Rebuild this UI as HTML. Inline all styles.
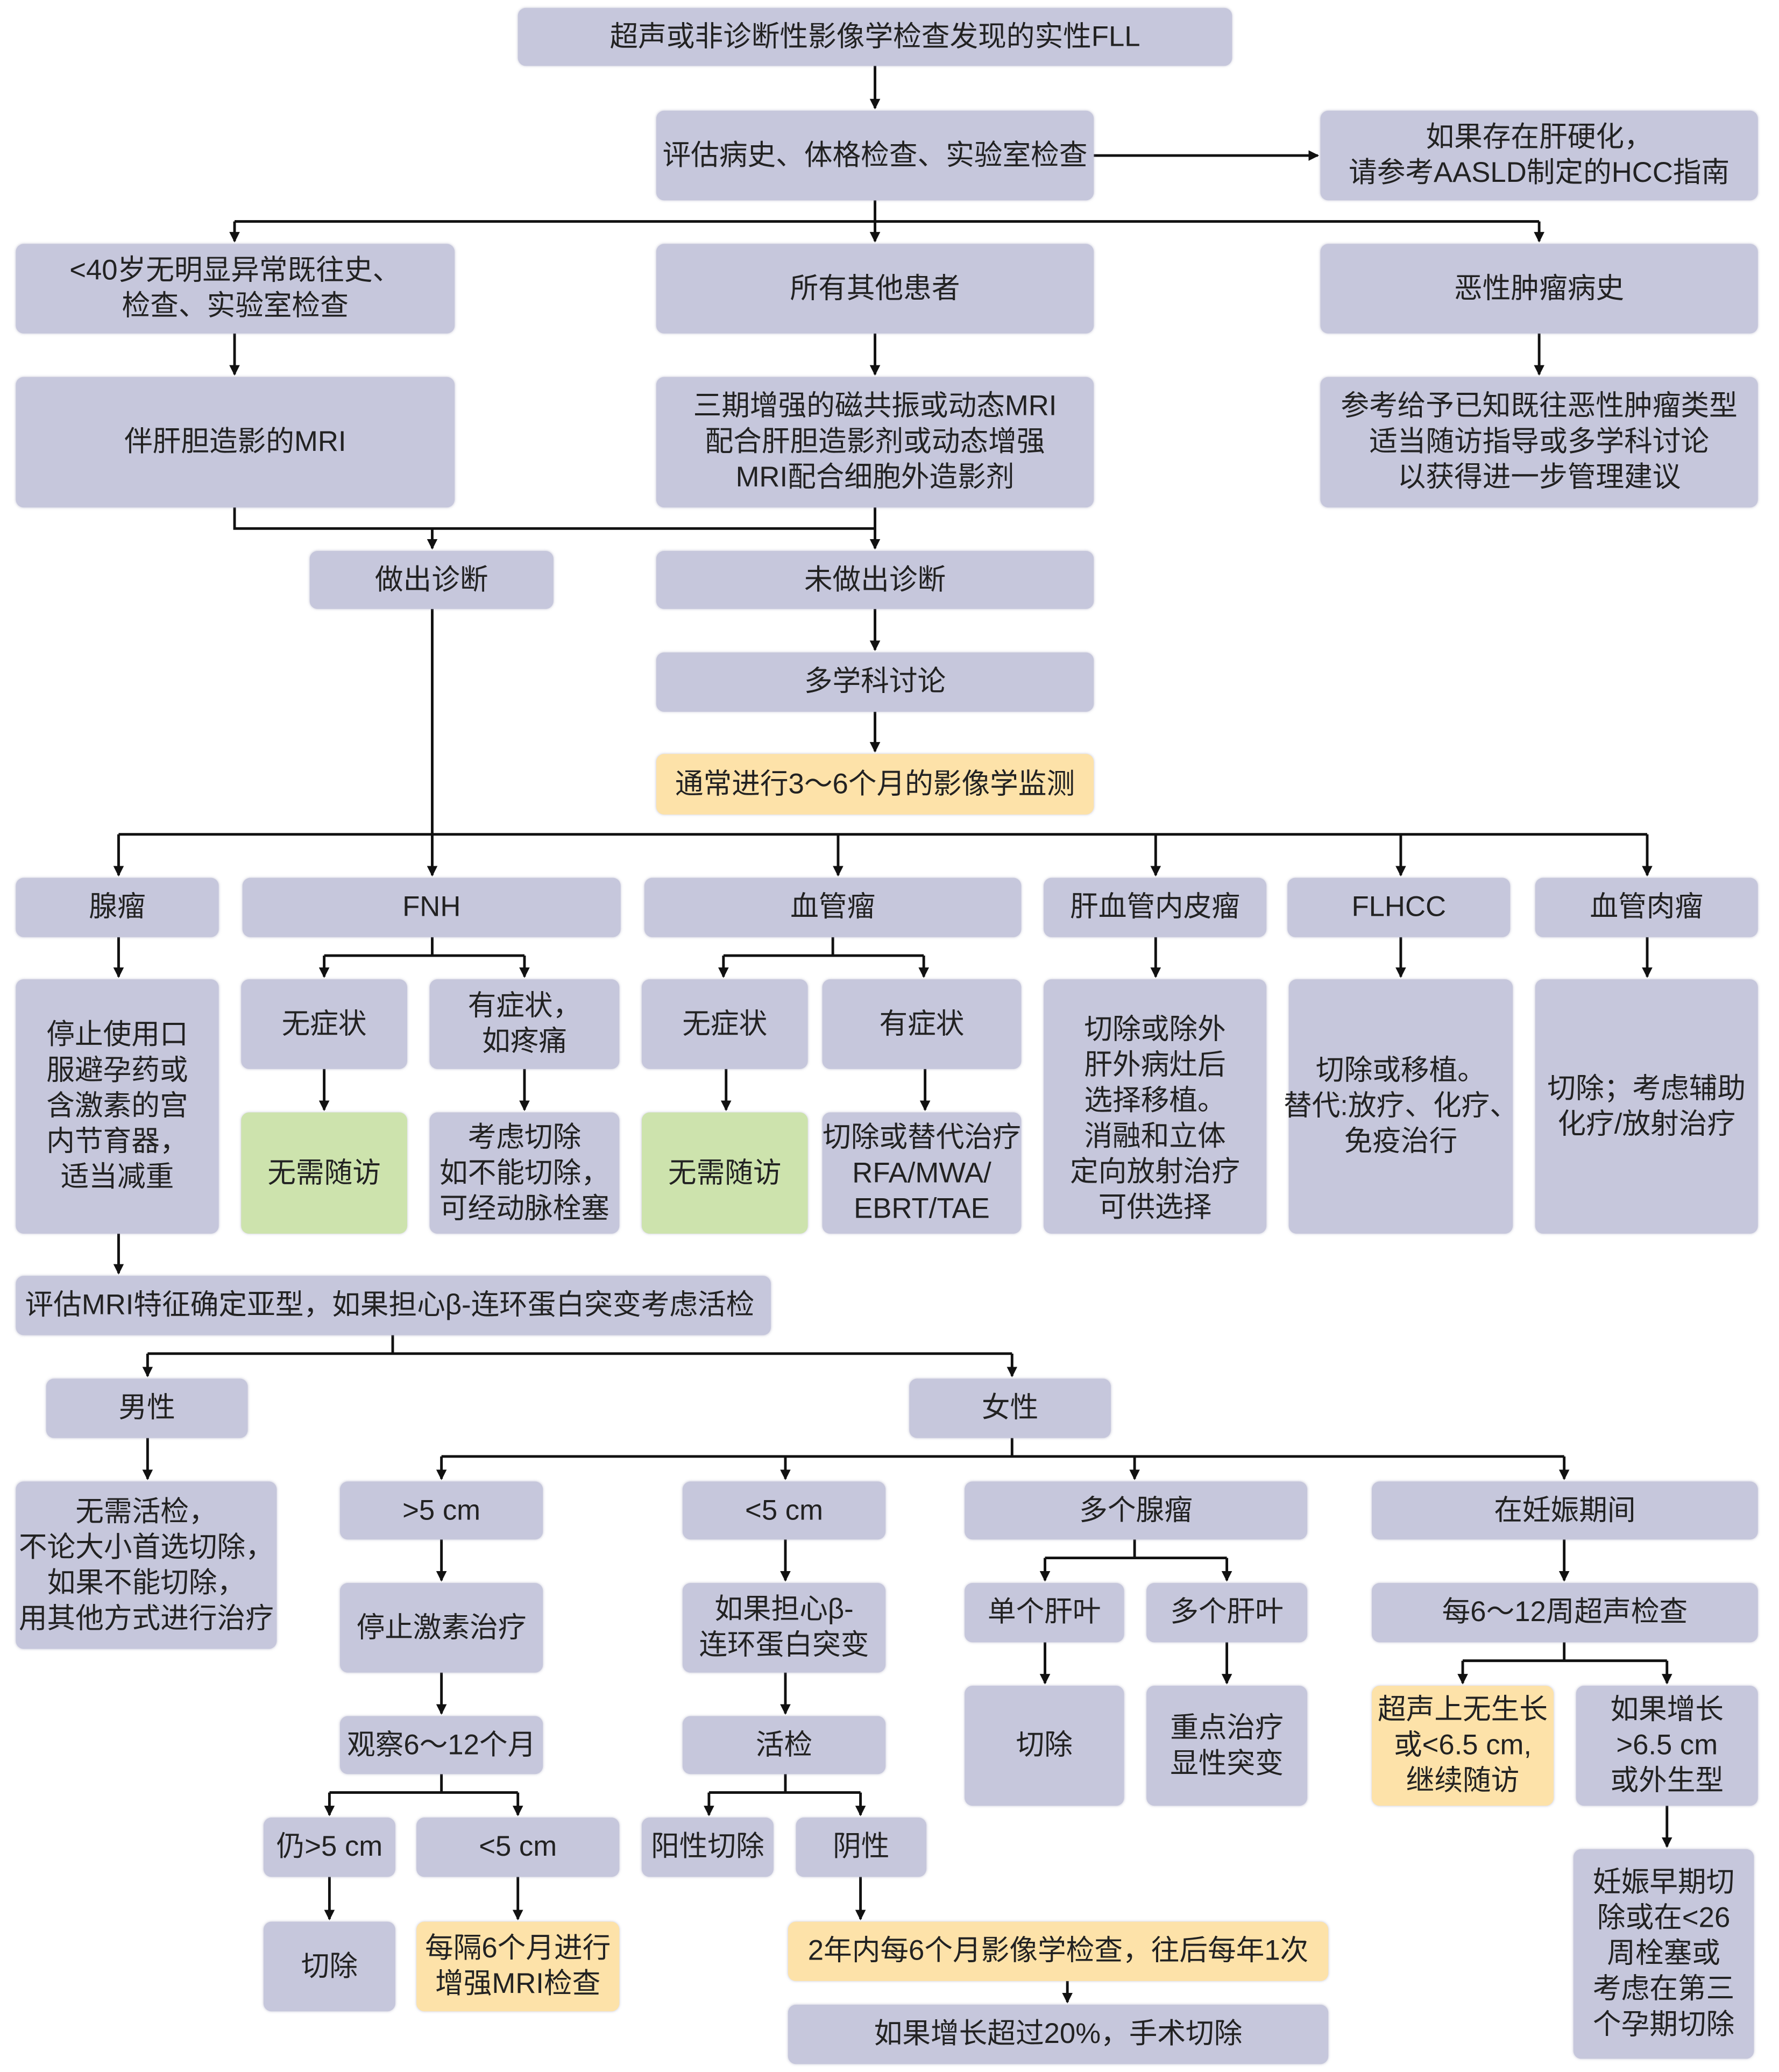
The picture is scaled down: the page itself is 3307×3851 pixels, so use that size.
<!DOCTYPE html>
<html><head><meta charset="utf-8">
<style>
html,body{margin:0;padding:0;background:#fff;}
#wrap{width:3307px;height:3851px;overflow:hidden;position:relative;background:#fff;}
#s{position:absolute;left:0;top:0;width:1350px;height:1572px;transform:scale(2.4496,2.4497);transform-origin:0 0;}
.b{position:absolute;background:#c6c7dc;border-radius:6px;display:flex;align-items:center;justify-content:center;text-align:center;white-space:nowrap;
font-family:"Liberation Sans","Noto Sans CJK SC",sans-serif;font-size:21.5px;line-height:27px;color:#222;box-sizing:border-box;padding:0 1px;box-shadow:0 0 2px rgba(150,150,180,.5);}
.g{background:#cde3ad;}
.y{background:#fde2a9;}
svg{position:absolute;left:0;top:0;}
</style></head><body><div id="wrap"><div id="s">
<svg width="1350" height="1572" viewBox="0 0 1350 1572">
<defs><marker id="a" markerWidth="8" markerHeight="8" refX="7" refY="4" orient="auto" markerUnits="userSpaceOnUse"><path d="M0,0 L8,4 L0,8 z" fill="#111"/></marker></defs>
<g stroke="#111" stroke-width="2" fill="none">
<path d="M664 50 V82" marker-end="url(#a)"/>
<path d="M830 118 H1000" marker-end="url(#a)"/>
<path d="M664 152 V168"/><path d="M178 168 H1168"/>
<path d="M178 168 V183" marker-end="url(#a)"/><path d="M664 168 V183" marker-end="url(#a)"/><path d="M1168 168 V183" marker-end="url(#a)"/>
<path d="M178 253 V284" marker-end="url(#a)"/><path d="M664 253 V284" marker-end="url(#a)"/><path d="M1168 253 V284" marker-end="url(#a)"/>
<path d="M178 385 V401 H664"/><path d="M664 385 V416" marker-end="url(#a)"/><path d="M328 401 V416" marker-end="url(#a)"/>
<path d="M664 462 V493" marker-end="url(#a)"/><path d="M664 540 V570" marker-end="url(#a)"/>
<path d="M328 462 V633"/><path d="M90 633 H1250"/>
<path d="M90 633 V664" marker-end="url(#a)"/><path d="M328 633 V664" marker-end="url(#a)"/><path d="M636 633 V664" marker-end="url(#a)"/><path d="M877 633 V664" marker-end="url(#a)"/><path d="M1063 633 V664" marker-end="url(#a)"/><path d="M1250 633 V664" marker-end="url(#a)"/>
<path d="M90 711 V741" marker-end="url(#a)"/>
<path d="M328 711 V725"/><path d="M246 725 H398"/><path d="M246 725 V741" marker-end="url(#a)"/><path d="M398 725 V741" marker-end="url(#a)"/>
<path d="M632 711 V725"/><path d="M549 725 H701"/><path d="M549 725 V741" marker-end="url(#a)"/><path d="M701 725 V741" marker-end="url(#a)"/>
<path d="M877 711 V741" marker-end="url(#a)"/><path d="M1063 711 V741" marker-end="url(#a)"/><path d="M1250 711 V741" marker-end="url(#a)"/>
<path d="M246 811 V842" marker-end="url(#a)"/><path d="M398 811 V842" marker-end="url(#a)"/><path d="M551 811 V842" marker-end="url(#a)"/><path d="M702 811 V842" marker-end="url(#a)"/>
<path d="M90 936 V966" marker-end="url(#a)"/>
<path d="M298 1013 V1027"/><path d="M112 1027 H768"/><path d="M112 1027 V1044" marker-end="url(#a)"/><path d="M768 1027 V1044" marker-end="url(#a)"/>
<path d="M112 1091 V1122" marker-end="url(#a)"/>
<path d="M768 1091 V1105"/><path d="M335 1105 H1187"/>
<path d="M335 1105 V1122" marker-end="url(#a)"/><path d="M596 1105 V1122" marker-end="url(#a)"/><path d="M861 1105 V1122" marker-end="url(#a)"/><path d="M1187 1105 V1122" marker-end="url(#a)"/>
<path d="M335 1168 V1199" marker-end="url(#a)"/><path d="M335 1269 V1300" marker-end="url(#a)"/>
<path d="M335 1346 V1360"/><path d="M250 1360 H393"/><path d="M250 1360 V1377" marker-end="url(#a)"/><path d="M393 1360 V1377" marker-end="url(#a)"/>
<path d="M250 1424 V1456" marker-end="url(#a)"/><path d="M393 1424 V1456" marker-end="url(#a)"/>
<path d="M596 1168 V1199" marker-end="url(#a)"/><path d="M596 1269 V1300" marker-end="url(#a)"/>
<path d="M596 1346 V1360"/><path d="M538 1360 H653"/><path d="M538 1360 V1377" marker-end="url(#a)"/><path d="M653 1360 V1377" marker-end="url(#a)"/>
<path d="M653 1424 V1456" marker-end="url(#a)"/><path d="M810 1503 V1519" marker-end="url(#a)"/>
<path d="M861 1168 V1182"/><path d="M793 1182 H931"/><path d="M793 1182 V1199" marker-end="url(#a)"/><path d="M931 1182 V1199" marker-end="url(#a)"/>
<path d="M793 1246 V1277" marker-end="url(#a)"/><path d="M931 1246 V1277" marker-end="url(#a)"/>
<path d="M1187 1168 V1199" marker-end="url(#a)"/>
<path d="M1187 1246 V1260"/><path d="M1110 1260 H1265"/><path d="M1110 1260 V1277" marker-end="url(#a)"/><path d="M1265 1260 V1277" marker-end="url(#a)"/>
<path d="M1265 1370 V1401" marker-end="url(#a)"/>
</g></svg>

<div class="b" style="left:393px;top:6px;width:542px;height:44px">超声或非诊断性影像学检查发现的实性FLL</div>
<div class="b" style="left:498px;top:84px;width:332px;height:68px">评估病史、体格检查、实验室检查</div>
<div class="b" style="left:1002px;top:84px;width:332px;height:68px">如果存在肝硬化，<br>请参考AASLD制定的HCC指南</div>
<div class="b" style="left:12px;top:185px;width:333px;height:68px">&lt;40岁无明显异常既往史、<br>检查、实验室检查</div>
<div class="b" style="left:498px;top:185px;width:332px;height:68px">所有其他患者</div>
<div class="b" style="left:1002px;top:185px;width:332px;height:68px">恶性肿瘤病史</div>
<div class="b" style="left:12px;top:286px;width:333px;height:99px">伴肝胆造影的MRI</div>
<div class="b" style="left:498px;top:286px;width:332px;height:99px">三期增强的磁共振或动态MRI<br>配合肝胆造影剂或动态增强<br>MRI配合细胞外造影剂</div>
<div class="b" style="left:1002px;top:286px;width:332px;height:99px">参考给予已知既往恶性肿瘤类型<br>适当随访指导或多学科讨论<br>以获得进一步管理建议</div>
<div class="b" style="left:235px;top:418px;width:185px;height:44px">做出诊断</div>
<div class="b" style="left:498px;top:418px;width:332px;height:44px">未做出诊断</div>
<div class="b" style="left:498px;top:495px;width:332px;height:45px">多学科讨论</div>
<div class="b y" style="left:498px;top:572px;width:332px;height:46px">通常进行3～6个月的影像学监测</div>

<div class="b" style="left:12px;top:666px;width:154px;height:45px">腺瘤</div>
<div class="b" style="left:184px;top:666px;width:287px;height:45px">FNH</div>
<div class="b" style="left:489px;top:666px;width:286px;height:45px">血管瘤</div>
<div class="b" style="left:792px;top:666px;width:169px;height:45px">肝血管内皮瘤</div>
<div class="b" style="left:977px;top:666px;width:169px;height:45px">FLHCC</div>
<div class="b" style="left:1165px;top:666px;width:169px;height:45px">血管肉瘤</div>

<div class="b" style="left:183px;top:743px;width:126px;height:68px">无症状</div>
<div class="b" style="left:326px;top:743px;width:144px;height:68px">有症状，<br>如疼痛</div>
<div class="b" style="left:487px;top:743px;width:126px;height:68px">无症状</div>
<div class="b" style="left:624px;top:743px;width:151px;height:68px">有症状</div>
<div class="b" style="left:12px;top:743px;width:154px;height:193px">停止使用口<br>服避孕药或<br>含激素的宫<br>内节育器，<br>适当减重</div>
<div class="b" style="left:792px;top:743px;width:169px;height:193px;padding-top:18px">切除或除外<br>肝外病灶后<br>选择移植。<br>消融和立体<br>定向放射治疗<br>可供选择</div>
<div class="b" style="left:978px;top:743px;width:170px;height:193px">切除或移植。<br>替代:放疗、化疗、<br>免疫治行</div>
<div class="b" style="left:1165px;top:743px;width:169px;height:193px">切除；考虑辅助<br>化疗/放射治疗</div>
<div class="b g" style="left:183px;top:844px;width:126px;height:92px">无需随访</div>
<div class="b" style="left:326px;top:844px;width:144px;height:92px">考虑切除<br>如不能切除，<br>可经动脉栓塞</div>
<div class="b g" style="left:487px;top:844px;width:126px;height:92px">无需随访</div>
<div class="b" style="left:624px;top:844px;width:151px;height:92px">切除或替代治疗<br>RFA/MWA/<br>EBRT/TAE</div>

<div class="b" style="left:12px;top:968px;width:573px;height:45px;justify-content:flex-start;padding-left:7px">评估MRI特征确定亚型，如果担心β-连环蛋白突变考虑活检</div>
<div class="b" style="left:35px;top:1046px;width:153px;height:45px">男性</div>
<div class="b" style="left:690px;top:1046px;width:153px;height:45px">女性</div>
<div class="b" style="left:12px;top:1124px;width:198px;height:127px">无需活检，<br>不论大小首选切除，<br>如果不能切除，<br>用其他方式进行治疗</div>

<div class="b" style="left:258px;top:1124px;width:154px;height:44px">&gt;5 cm</div>
<div class="b" style="left:518px;top:1124px;width:154px;height:44px">&lt;5 cm</div>
<div class="b" style="left:732px;top:1124px;width:260px;height:44px">多个腺瘤</div>
<div class="b" style="left:1041px;top:1124px;width:293px;height:44px">在妊娠期间</div>

<div class="b" style="left:258px;top:1201px;width:154px;height:68px">停止激素治疗</div>
<div class="b" style="left:258px;top:1302px;width:154px;height:44px">观察6～12个月</div>
<div class="b" style="left:200px;top:1379px;width:100px;height:45px">仍&gt;5 cm</div>
<div class="b" style="left:316px;top:1379px;width:154px;height:45px">&lt;5 cm</div>
<div class="b" style="left:200px;top:1458px;width:100px;height:68px">切除</div>
<div class="b y" style="left:316px;top:1458px;width:154px;height:68px">每隔6个月进行<br>增强MRI检查</div>

<div class="b" style="left:518px;top:1201px;width:154px;height:68px">如果担心β-<br>连环蛋白突变</div>
<div class="b" style="left:518px;top:1302px;width:154px;height:44px">活检</div>
<div class="b" style="left:487px;top:1379px;width:100px;height:45px">阳性切除</div>
<div class="b" style="left:604px;top:1379px;width:99px;height:45px">阴性</div>
<div class="b y" style="left:598px;top:1458px;width:410px;height:45px">2年内每6个月影像学检查，往后每年1次</div>
<div class="b" style="left:598px;top:1521px;width:410px;height:45px">如果增长超过20%，手术切除</div>

<div class="b" style="left:732px;top:1201px;width:121px;height:45px">单个肝叶</div>
<div class="b" style="left:870px;top:1201px;width:122px;height:45px">多个肝叶</div>
<div class="b" style="left:732px;top:1279px;width:121px;height:91px">切除</div>
<div class="b" style="left:870px;top:1279px;width:122px;height:91px">重点治疗<br>显性突变</div>

<div class="b" style="left:1041px;top:1201px;width:293px;height:45px">每6～12周超声检查</div>
<div class="b y" style="left:1041px;top:1279px;width:138px;height:91px">超声上无生长<br>或&lt;6.5 cm,<br>继续随访</div>
<div class="b" style="left:1196px;top:1279px;width:138px;height:91px">如果增长<br>&gt;6.5 cm<br>或外生型</div>
<div class="b" style="left:1194px;top:1403px;width:137px;height:159px">妊娠早期切<br>除或在&lt;26<br>周栓塞或<br>考虑在第三<br>个孕期切除</div>
</div></div></body></html>
